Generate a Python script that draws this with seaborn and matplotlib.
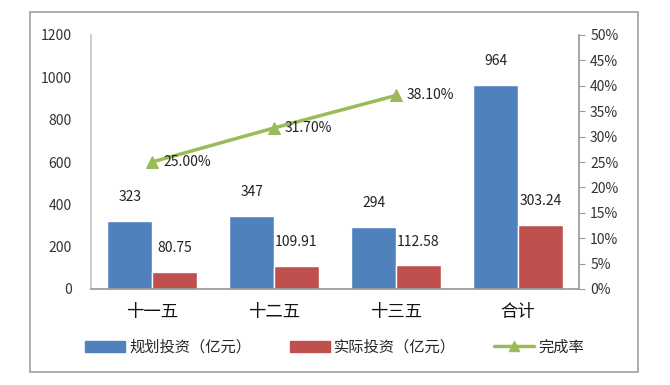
import pandas as pd
import numpy as np
import matplotlib.pyplot as plt
import matplotlib.patches as mpatches
from matplotlib.lines import Line2D
from matplotlib.ticker import PercentFormatter
import seaborn as sns

sns.set_theme(style="white")
plt.rcParams['font.family'] = ['Noto Sans CJK SC', 'DejaVu Sans']

# 数据
categories = ['十一五', '十二五', '十三五', '合计']
planned = [323, 347, 294, 964]
actual = [80.75, 109.91, 112.58, 303.24]
rate_cats = ['十一五', '十二五', '十三五']
rate = [25.00, 31.70, 38.10]

series_names = ['规划投资（亿元）', '实际投资（亿元）']
rate_name = '完成率'
colors = ['#4F81BD', '#C0504D']
line_color = '#9BBB59'

df = pd.DataFrame({
    'cat': categories * 2,
    'series': [series_names[0]] * len(categories) + [series_names[1]] * len(categories),
    'value': planned + actual,
})

fig = plt.figure(figsize=(6.7, 3.85), dpi=100)
ax = fig.add_axes([91 / 670, 1 - 289 / 385, (579 - 91) / 670, (289 - 35) / 385])

sns.barplot(data=df, x='cat', y='value', hue='series', order=categories,
            hue_order=series_names, palette=colors, width=0.73, saturation=1,
            ax=ax, legend=False)

ax.set_ylim(0, 1200)
ax.set_yticks(range(0, 1201, 200))
ax.set_xlabel('')
ax.set_ylabel('')
ax.tick_params(axis='y', length=0, labelsize=10, colors='#333333', pad=14)
ax.tick_params(axis='x', length=0, labelsize=12.5, colors='#111111', pad=10)
for s in ['top', 'right']:
    ax.spines[s].set_visible(False)
ax.spines['left'].set_color('#c8c8c8')
ax.spines['bottom'].set_color('#9a9a9a')

# 柱顶数值
for cont, vals in zip(ax.containers, [planned, actual]):
    for bar, v in zip(cont, vals):
        txt = f'{v:g}' if float(v).is_integer() else f'{v:.2f}'
        ax.annotate(txt, (bar.get_x() + bar.get_width() / 2, bar.get_height()),
                    xytext=(0, 12), textcoords='offset points',
                    ha='center', va='bottom', fontsize=10, color='#222222')

# 完成率
ax2 = ax.twinx()
xpos = [categories.index(c) for c in rate_cats]
sns.lineplot(x=xpos, y=rate, color=line_color, linewidth=2.5, marker='^',
             markersize=9, markeredgecolor=line_color, ax=ax2)
for x, r in zip(xpos, rate):
    ax2.annotate(f'{r:.2f}%', (x, r), xytext=(8, 0), textcoords='offset points',
                 ha='left', va='center', fontsize=10, color='#222222')
ax2.set_ylim(0, 50)
ax2.set_yticks(range(0, 51, 5))
ax2.yaxis.set_major_formatter(PercentFormatter(decimals=0))
ax2.tick_params(axis='y', length=4, width=0.8, labelsize=10, pad=4,
                colors='#9a9a9a', labelcolor='#333333')
for s in ['top', 'left', 'bottom']:
    ax2.spines[s].set_visible(False)
ax2.spines['right'].set_color('#9a9a9a')
ax2.set_xlim(-0.5, len(categories) - 0.5)

# 图例
handles = [mpatches.Patch(color=colors[0], label=series_names[0]),
           mpatches.Patch(color=colors[1], label=series_names[1]),
           Line2D([0], [0], color=line_color, lw=2.5, marker='^', markersize=7,
                  label=rate_name)]
fig.legend(handles=handles, loc='center', bbox_to_anchor=(0.5, 1 - 347 / 385),
           ncol=3, frameon=False, fontsize=11, handlelength=2.6, handleheight=0.7,
           columnspacing=2.5, handletextpad=0.3)

# 外框
fig.add_artist(mpatches.Rectangle((30 / 670, 1 - 372 / 385), 608 / 670, 360 / 385,
                                  transform=fig.transFigure, fill=False,
                                  edgecolor='#a0a0a0', linewidth=1.2))

fig.savefig('out.png', dpi=100)
